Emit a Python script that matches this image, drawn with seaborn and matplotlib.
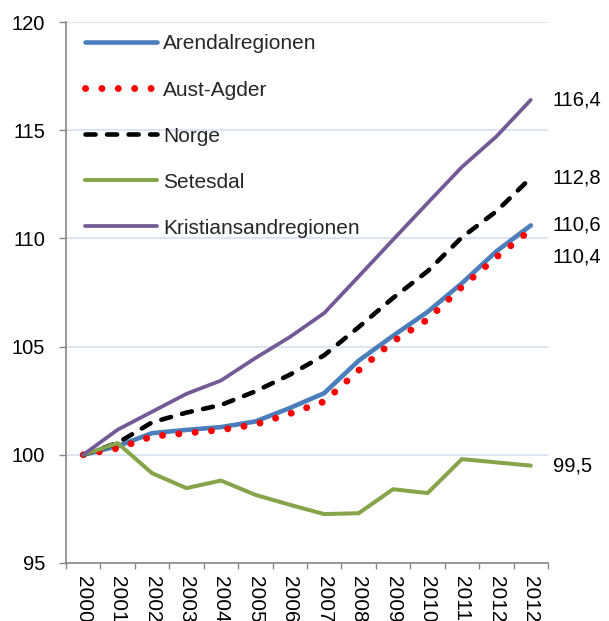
import matplotlib
matplotlib.use("Agg")
import matplotlib.pyplot as plt
from matplotlib.ticker import FixedLocator, NullFormatter
import numpy as np
import pandas as pd
import seaborn as sns

# Year labels along the x axis (one category per index)
years = ["2000", "2001", "2002", "2003", "2004", "2005", "2006",
         "2007", "2008", "2009", "2010", "2011", "2012", "2012"]

# Index series, 2000 = 100
arendalregionen = [100.0, 100.4, 101.0, 101.15, 101.28, 101.54, 102.16,
                   102.85, 104.35, 105.5, 106.6, 107.93, 109.4, 110.6]
aust_agder = [100.0, 100.3, 100.85, 101.0, 101.15, 101.4, 101.9,
              102.46, 103.9, 105.24, 106.25, 107.76, 109.13, 110.4]
norge = [100.0, 100.55, 101.5, 101.95, 102.3, 102.93, 103.7,
         104.6, 105.9, 107.25, 108.48, 110.05, 111.25, 112.8]
setesdal = [100.0, 100.54, 99.15, 98.46, 98.81, 98.15, 97.69,
            97.26, 97.3, 98.41, 98.23, 99.8, 99.65, 99.5]
kristiansandregionen = [100.0, 101.16, 101.99, 102.82, 103.43, 104.47, 105.44,
                        106.55, 108.24, 109.94, 111.63, 113.3, 114.71, 116.4]

series_names = ["Arendalregionen", "Aust-Agder", "Norge", "Setesdal",
                "Kristiansandregionen"]
end_labels = ["110,6", "110,4", "112,8", "99,5", "116,4"]

sns.set_theme(style="white")
plt.rcParams["font.family"] = ["Liberation Sans", "DejaVu Sans"]

fig = plt.figure(figsize=(6.09, 6.21), dpi=100)
W, H = 609, 621
ax = fig.add_axes([66 / W, 1 - 563 / H, (548 - 66) / W, (563 - 22) / H])

x = np.arange(len(years))
df = pd.DataFrame({
    "x": np.tile(x, 5),
    "value": arendalregionen + aust_agder + norge + setesdal + kristiansandregionen,
    "series": np.repeat(series_names, len(years)),
})

styles = {
    "Arendalregionen": dict(color="#4A7EBB", lw=3.3, ls="-",
                            solid_capstyle="round"),
    "Aust-Agder": dict(color="#FF0000", lw=5.0, ls=(0, (0.01, 2.35)),
                       dash_capstyle="round"),
    "Norge": dict(color="#000000", lw=3.3, ls=(0, (2.2, 2.5)),
                  dash_capstyle="round"),
    "Setesdal": dict(color="#86A44A", lw=2.9, ls="-",
                     solid_capstyle="round"),
    "Kristiansandregionen": dict(color="#735A96", lw=2.7, ls="-",
                                 solid_capstyle="round"),
}

for name in series_names:
    sub = df[df["series"] == name]
    st = styles[name]
    sns.lineplot(data=sub, x="x", y="value", ax=ax, label=name,
                 color=st["color"], linewidth=st["lw"], linestyle=st["ls"],
                 **{k: v for k, v in st.items() if k.endswith("capstyle")})

# Value labels at the right end of each line
offsets = {"110,4": -19.5}
for name, lab in zip(series_names, end_labels):
    val = df[df["series"] == name]["value"].iloc[-1]
    ax.annotate(lab, xy=(1, val), xycoords=("axes fraction", "data"),
                xytext=(3.5, offsets.get(lab, 0)), textcoords="offset points",
                va="center", ha="left", fontsize=14.5, color="black",
                annotation_clip=False)

ax.set_xlim(-0.5, len(years) - 0.5)
ax.set_ylim(95, 120)
ax.set_yticks([95, 100, 105, 110, 115, 120])
ax.set_xticks(x)
ax.set_xticklabels(years, rotation=270, fontsize=15, va="top")
ax.xaxis.set_minor_locator(FixedLocator(np.arange(-0.5, len(years), 1.0)))
ax.xaxis.set_minor_formatter(NullFormatter())
ax.tick_params(axis="x", which="major", length=0, pad=9, colors="black")
ax.tick_params(axis="x", which="minor", length=4, width=1, color="#868686",
               direction="out", bottom=True)
ax.tick_params(axis="y", which="major", length=5, width=1, color="#868686",
               direction="out", left=True, labelsize=14.5, labelcolor="black",
               pad=10)
ax.set_xlabel("")
ax.set_ylabel("")

ax.grid(axis="y", color="#D6E2F0", linewidth=1.2)
ax.grid(axis="x", visible=False)
ax.set_axisbelow(True)
for side in ["top", "right"]:
    ax.spines[side].set_visible(False)
for side in ["left", "bottom"]:
    ax.spines[side].set_color("#868686")
    ax.spines[side].set_linewidth(1.2)

leg = ax.legend(loc="upper left", bbox_to_anchor=(0.039, 0.977),
                frameon=False, fontsize=15, handlelength=3.46,
                handletextpad=0.29, labelspacing=1.30, borderpad=0,
                borderaxespad=0)

fig.savefig("out.png", dpi=100)
